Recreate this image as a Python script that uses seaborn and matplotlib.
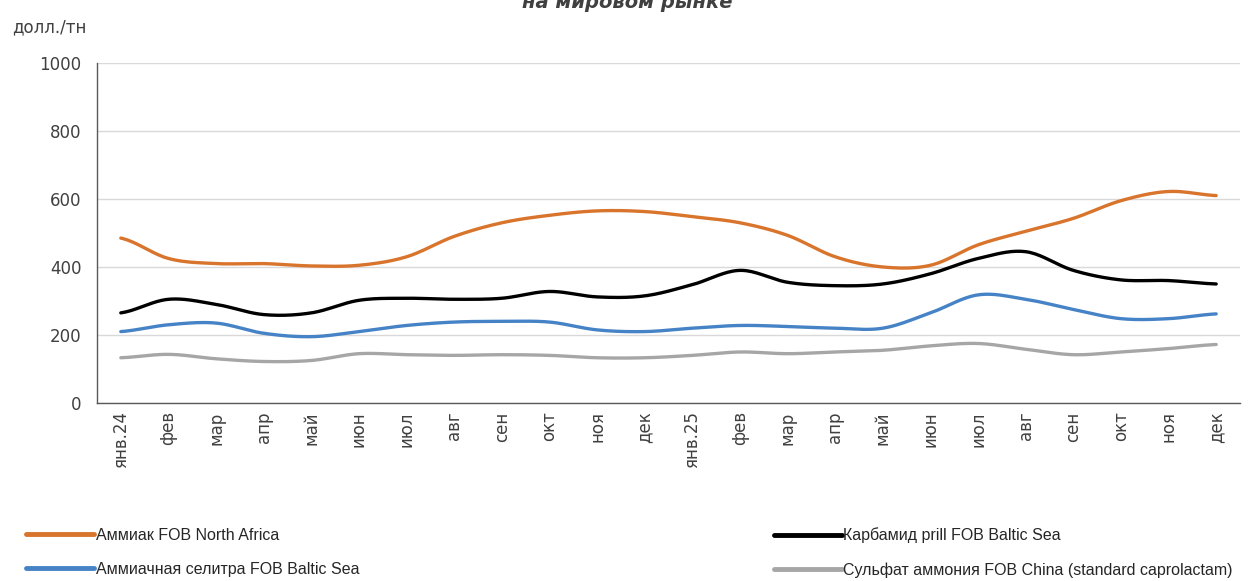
import numpy as np
import pandas as pd
import seaborn as sns
import matplotlib
matplotlib.use('Agg')
from matplotlib import pyplot as plt
from matplotlib.ticker import FixedLocator, NullFormatter

months = ["янв.24", "фев", "мар", "апр", "май", "июн", "июл", "авг", "сен", "окт", "ноя", "дек",
          "янв.25", "фев", "мар", "апр", "май", "июн", "июл", "авг", "сен", "окт", "ноя", "дек"]

ammonia = [485, 425, 410, 410, 403, 405, 430, 490, 530, 552, 565, 563,
           548, 530, 493, 430, 400, 405, 465, 505, 543, 595, 622, 610]
urea = [265, 305, 290, 260, 265, 302, 308, 305, 308, 328, 312, 315,
        348, 390, 355, 345, 350, 380, 425, 445, 390, 362, 360, 350]
nitrate = [210, 230, 235, 205, 195, 210, 228, 238, 240, 238, 215, 210,
           220, 228, 225, 220, 220, 265, 318, 305, 275, 248, 248, 262]
sulfate = [133, 143, 130, 122, 125, 145, 142, 140, 142, 140, 133, 133,
           140, 150, 145, 150, 155, 168, 175, 158, 142, 150, 160, 172]

series_names = ["Аммиак FOB North Africa", "Аммиачная селитра FOB Baltic Sea",
                "Карбамид prill FOB Baltic Sea", "Сульфат аммония FOB China (standard caprolactam)"]
series_values = [ammonia, nitrate, urea, sulfate]
colors = ["#D9742C", "#4683C6", "#000000", "#A6A6A6"]


def smooth(y, steps=20):
  # excel-like smoothed line (catmull-rom through the points)
  y = np.asarray(y, dtype=float)
  p = np.concatenate([[y[0]], y, [y[-1]]])
  xs, ys = [], []
  for i in range(len(y) - 1):
    p0, p1, p2, p3 = p[i], p[i + 1], p[i + 2], p[i + 3]
    t = np.linspace(0, 1, steps, endpoint=False)
    v = 0.5 * ((2 * p1) + (-p0 + p2) * t + (2 * p0 - 5 * p1 + 4 * p2 - p3) * t ** 2
               + (-p0 + 3 * p1 - 3 * p2 + p3) * t ** 3)
    xs.extend(i + t)
    ys.extend(v)
  xs.append(len(y) - 1)
  ys.append(y[-1])
  return np.array(xs), np.array(ys)


sns.set_style("white")
plt.rcParams['font.family'] = ['DejaVu Sans']

fig = plt.figure(figsize=(12.5, 5.81), dpi=100)
ax = fig.add_axes([0.0776, 0.3064, 0.9144, 0.5852])

for name, vals, col in zip(series_names, series_values, colors):
  sx, sy = smooth(vals)
  df = pd.DataFrame({"x": sx, "y": sy})
  sns.lineplot(data=df, x="x", y="y", ax=ax, color=col, linewidth=2.4, label=name, sort=False)

ax.set_xlim(-0.5, len(months) - 0.5)
ax.set_ylim(0, 1000)
ax.set_yticks(range(0, 1001, 200))
ax.yaxis.grid(True, color="#D9D9D9", linewidth=1)
ax.set_xlabel("")
ax.set_ylabel("")
ax.set_xticks(range(len(months)))
ax.set_xticklabels(months, rotation=90, fontsize=12, color="#404040")
ax.xaxis.set_minor_locator(FixedLocator(np.arange(-0.5, len(months), 1)))
ax.xaxis.set_minor_formatter(NullFormatter())
ax.tick_params(axis="x", which="major", length=0, pad=6)
ax.tick_params(axis="x", which="minor", length=7, width=1, color="#595959", direction="out")
ax.tick_params(axis="y", length=5, width=1, color="#595959", labelsize=12, labelcolor="#404040", pad=6)
for s in ["top", "right"]:
  ax.spines[s].set_visible(False)
for s in ["left", "bottom"]:
  ax.spines[s].set_color("#595959")
  ax.spines[s].set_linewidth(1)
ax.get_legend().remove()

handles, labels = ax.get_legend_handles_labels()
# two columns of the legend placed separately
for k, x0 in enumerate([0.021, 0.619]):
  leg = fig.legend(handles[2 * k:2 * k + 2], labels[2 * k:2 * k + 2], loc="upper left",
                   bbox_to_anchor=(x0, 0.092), frameon=False,
                   prop={"family": "Liberation Sans", "size": 11.5},
                   handlelength=4.25, handletextpad=0.1, labelspacing=1.2,
                   borderaxespad=0, borderpad=0)
  for h in leg.get_lines():
    h.set_linewidth(3.5)
  for t in leg.get_texts():
    t.set_color("#262626")

fig.text(0.01, 0.953, "долл./тн", fontsize=12, color="#404040", va="center", ha="left")
fig.text(0.502, 1 - 8 / 581, "на мировом рынке", fontsize=14, fontweight="bold", fontstyle="italic",
         color="#404040", ha="center", va="baseline")

fig.savefig("out.png", dpi=100)
